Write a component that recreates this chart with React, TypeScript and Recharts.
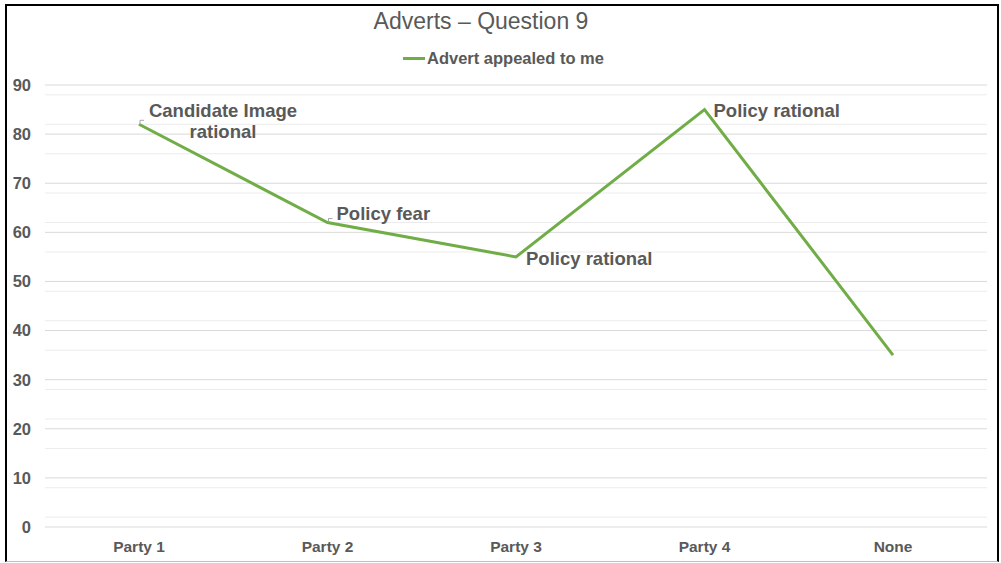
import React from "react";
import { CartesianGrid, LabelList, Line, LineChart, XAxis, YAxis } from "recharts";

const parties = ["Party 1", "Party 2", "Party 3", "Party 4", "None"];
const appealed = [82, 62, 55, 85, 35];
const advertTypes = [["Candidate Image", "rational"], ["Policy fear"], ["Policy rational"], ["Policy rational"], []];
const yTicks = [0, 10, 20, 30, 40, 50, 60, 70, 80, 90];
const minorTicks = [2, 4, 6, 8, 12, 14, 16, 18, 22, 24, 26, 28, 32, 34, 36, 38, 42, 44, 46, 48, 52, 54, 56, 58, 62, 64, 66, 68, 72, 74, 76, 78, 82, 84, 86, 88];

const data = parties.map((party, i) => ({ party, appealed: appealed[i], label: advertTypes[i] }));

// where each label sits relative to its point
const labelPlacement = [
  { dx: 84, dy: -14, anchor: "middle", leader: true },
  { dx: 9, dy: -9, anchor: "start", leader: true },
  { dx: 10, dy: 2, anchor: "start", leader: false },
  { dx: 9, dy: 1, anchor: "start", leader: false },
  { dx: 0, dy: 0, anchor: "start", leader: false },
];

const TEXT = "#595959";
const GREEN = "#70ad47";
const FONT = "'Liberation Sans', Arial, sans-serif";

const AdvertLabel = (props: any) => {
  const { x, y, index, value } = props;
  const lines: string[] = value || [];
  if (!lines.length) return null;
  const p = labelPlacement[index];
  return (
    <g>
      {p.leader && (
        <path
          d={`M ${x + 1} ${y - 1} L ${x + 1} ${y - 4} L ${x + 5} ${y - 4}`}
          fill="none"
          stroke="#a6a6a6"
          strokeWidth={1}
        />
      )}
      {lines.map((line, i) => (
        <text
          key={i}
          x={x + p.dx}
          y={y + p.dy + i * 21}
          textAnchor={p.anchor}
          dominantBaseline="central"
          fontFamily={FONT}
          fontWeight="bold"
          fontSize={18.5}
          fill={TEXT}
        >
          {line}
        </text>
      ))}
    </g>
  );
};

const App = () => {
  return (
    <div style={{ position: "absolute", left: 0, top: 0, width: 1001, height: 563, background: "#fff" }}>
      <div
        style={{
          position: "absolute",
          left: 5,
          top: 4,
          width: 990,
          height: 555,
          borderTop: "2.5px solid #000",
          borderLeft: "2.5px solid #000",
          borderRight: "2.5px solid #000",
          borderBottom: "1px solid #bfbfbf",
        }}
      />
      <div
        style={{
          position: "absolute",
          left: 0,
          width: 962,
          top: 8,
          textAlign: "center",
          fontFamily: FONT,
          fontSize: 23,
          color: TEXT,
        }}
      >
        Adverts – Question 9
      </div>
      <div
        style={{
          position: "absolute",
          left: 403,
          top: 49,
          display: "flex",
          alignItems: "center",
          fontFamily: FONT,
          fontWeight: "bold",
          fontSize: 16.5,
          color: TEXT,
        }}
      >
        <span style={{ display: "inline-block", width: 22, height: 3, background: GREEN, marginRight: 2 }} />
        Advert appealed to me
      </div>
      <div style={{ position: "absolute", left: 0, top: 0 }}>
        <LineChart width={1001} height={563} data={data} margin={{ top: 85, right: 14, bottom: 6, left: 5 }}>
          <CartesianGrid vertical={false} stroke="#ececec" strokeWidth={1} horizontalValues={minorTicks} />
          <CartesianGrid vertical={false} stroke="#d9d9d9" strokeWidth={1} />
          <XAxis
            dataKey="party"
            height={30}
            padding={{ left: 94, right: 94 }}
            axisLine={false}
            tickLine={false}
            tickMargin={8}
            tick={{ fontFamily: FONT, fontWeight: "bold", fontSize: 15.5, fill: TEXT }}
          />
          <YAxis
            width={40}
            domain={[0, 90]}
            ticks={yTicks}
            axisLine={false}
            tickLine={false}
            tickMargin={8}
            tick={{ fontFamily: FONT, fontWeight: "bold", fontSize: 16.5, fill: TEXT }}
          />
          <Line
            type="linear"
            dataKey="appealed"
            stroke={GREEN}
            strokeWidth={3}
            dot={false}
            activeDot={false}
            isAnimationActive={false}
          >
            <LabelList dataKey="label" content={<AdvertLabel />} />
          </Line>
        </LineChart>
      </div>
    </div>
  );
};

export default App;
